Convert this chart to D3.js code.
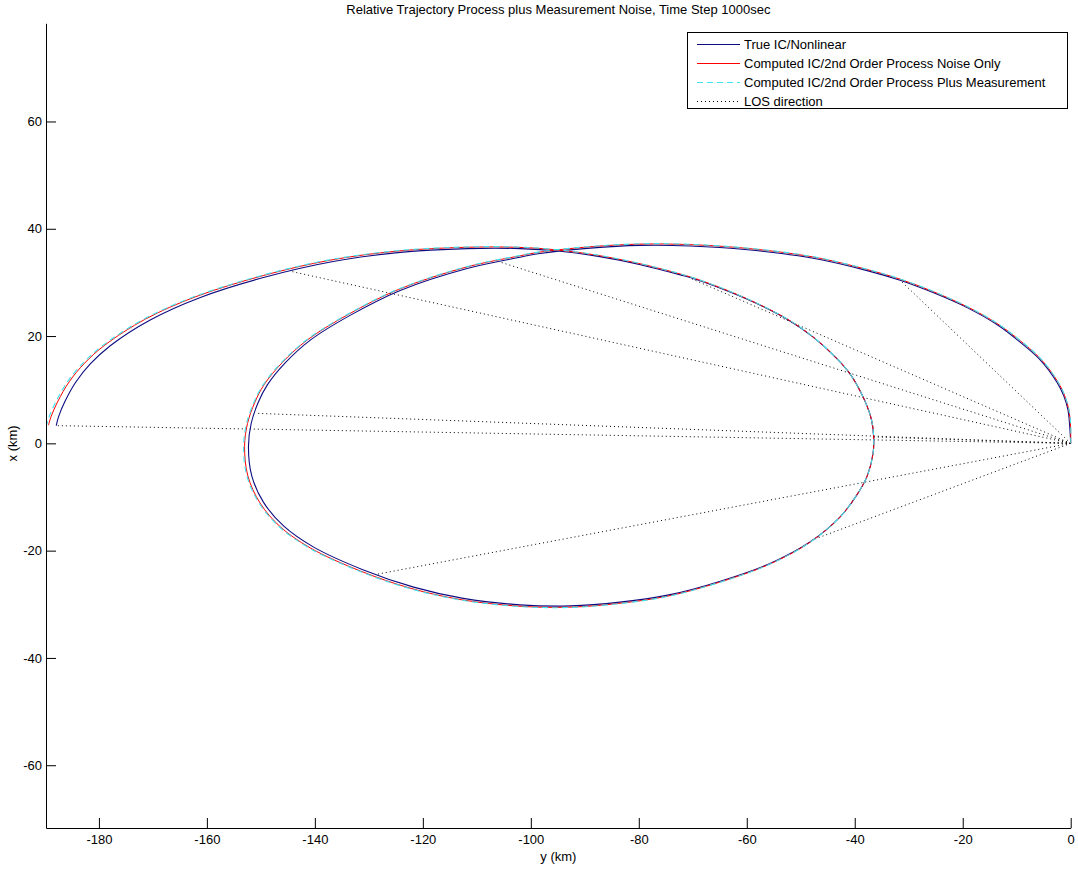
<!DOCTYPE html>
<html>
<head>
<meta charset="utf-8">
<script src="https://cdn.jsdelivr.net/npm/d3@7"></script>
<style>
  html, body { margin: 0; padding: 0; background: #fff; }
  svg { display: block; font-family: "Liberation Sans", Arial, sans-serif; }
</style>
</head>
<body>
<svg id="chart" width="1078" height="869"></svg>
<script>
// Relative trajectory (along-track y, radial x), km
const trueY = [0, -0.2, -0.5, -1.3, -2.5, -5.7, -9.9, -13.6, -19.2, -25.5, -31.6, -37.7, -47.7, -59.9, -70.5, -79.8, -89.0, -98.3, -102.0, -111.8, -124.2, -133.4, -140.9, -145.5, -148.8, -150.5, -151.8, -152.3, -151.7, -149.5, -145.8, -140.3, -131.0, -121.7, -112.5, -102.0, -92.7, -83.5, -74.2, -64.9, -55.7, -48.3, -42.7, -39.6, -37.7, -36.6, -36.5, -36.9, -38.3, -40.9, -43.5, -47.7, -52.0, -57.0, -63.1, -69.2, -72.3, -79.7, -87.2, -94.6, -102.0, -111.8, -124.2, -136.6, -148.8, -161.2, -170.5, -177.9, -181.6, -184.3, -186.3, -187.5, -187.9];
const trueX = [0, 3.4, 6.2, 8.9, 11.3, 15.6, 19.3, 22.1, 25.3, 28.1, 30.4, 32.2, 34.5, 36.1, 36.8, 36.9, 36.4, 35.4, 34.7, 32.6, 28.5, 23.9, 19.2, 15.0, 10.9, 7.6, 3.7, -0.6, -6.0, -11.0, -15.4, -19.3, -23.6, -26.8, -28.9, -30.1, -30.3, -29.6, -28.2, -25.7, -22.4, -18.4, -13.7, -9.6, -6.1, -1.8, 1.2, 4.4, 8.3, 13.0, 16.0, 19.8, 22.8, 25.5, 28.2, 30.5, 31.4, 33.3, 34.8, 35.8, 36.3, 36.3, 35.6, 33.9, 31.1, 27.2, 23.0, 18.2, 14.8, 11.4, 7.8, 4.9, 3.3];

const procY = [0, -0.04, -0.34, -1.14, -2.34, -5.54, -9.78, -13.52, -19.16, -25.5, -31.6, -37.7, -47.7, -59.9, -70.5, -79.8, -89.04, -98.38, -102.12, -112.0, -124.48, -133.76, -141.34, -146.02, -149.4, -151.14, -152.48, -153.02, -152.42, -150.18, -146.44, -140.9, -131.56, -122.18, -112.9, -102.36, -93.02, -83.78, -74.44, -65.1, -55.86, -48.42, -42.78, -39.64, -37.7, -36.6, -36.5, -36.9, -38.3, -40.94, -43.58, -47.82, -52.16, -57.2, -63.34, -69.48, -72.58, -80.02, -87.56, -95.0, -102.44, -112.28, -124.72, -137.2, -149.48, -162.0, -171.38, -178.9, -182.68, -185.5, -187.58, -188.86, -189.34];
const procX = [0, 3.4, 6.2, 8.94, 11.38, 15.72, 19.46, 22.26, 25.46, 28.3, 30.6, 32.4, 34.74, 36.34, 37.04, 37.14, 36.64, 35.64, 34.94, 32.84, 28.7, 24.06, 19.32, 15.08, 10.94, 7.6, 3.7, -0.6, -6.04, -11.08, -15.52, -19.46, -23.8, -27.04, -29.14, -30.34, -30.54, -29.84, -28.44, -25.9, -22.56, -18.52, -13.78, -9.64, -6.1, -1.8, 1.2, 4.4, 8.3, 13.04, 16.08, 19.92, 22.96, 25.66, 28.4, 30.7, 31.64, 33.54, 35.04, 36.04, 36.54, 36.54, 35.84, 34.14, 31.3, 27.36, 23.16, 18.32, 14.92, 11.48, 7.88, 4.98, 3.38];

const measY = [0, 0.0, -0.3, -1.1, -2.3, -5.5, -9.75, -13.5, -19.15, -25.5, -31.6, -37.7, -47.7, -59.9, -70.5, -79.8, -89.05, -98.4, -102.15, -112.05, -124.55, -133.85, -141.45, -146.15, -149.55, -151.3, -152.65, -153.2, -152.6, -150.35, -146.6, -141.05, -131.7, -122.3, -113.0, -102.45, -93.1, -83.85, -74.5, -65.15, -55.9, -48.45, -42.8, -39.65, -37.7, -36.6, -36.5, -36.9, -38.3, -40.95, -43.6, -47.85, -52.2, -57.25, -63.4, -69.55, -72.65, -80.1, -87.65, -95.1, -102.55, -112.4, -124.85, -137.35, -149.65, -162.2, -171.6, -179.15, -182.95, -185.8, -187.9, -189.2, -189.7];
const measX = [0, 3.4, 6.2, 8.95, 11.4, 15.75, 19.5, 22.3, 25.5, 28.35, 30.65, 32.45, 34.8, 36.4, 37.1, 37.2, 36.7, 35.7, 35.0, 32.9, 28.75, 24.1, 19.35, 15.1, 10.95, 7.6, 3.7, -0.6, -6.05, -11.1, -15.55, -19.5, -23.85, -27.1, -29.2, -30.4, -30.6, -29.9, -28.5, -25.95, -22.6, -18.55, -13.8, -9.65, -6.1, -1.8, 1.2, 4.4, 8.3, 13.05, 16.1, 19.95, 23.0, 25.7, 28.45, 30.75, 31.7, 33.6, 35.1, 36.1, 36.6, 36.6, 35.9, 34.2, 31.35, 27.4, 23.2, 18.35, 14.95, 11.5, 7.9, 5.0, 3.4];

// Line-of-sight sample points (each joined to the origin)
const losY = [-31.6, -105.7, -151.0, -128.5, -47.3, -36.5, -70.5, -144.6, -187.9];
const losX = [30.4, 33.8, 5.6, -24.4, -17.8, 1.2, 30.8, 32.1, 3.3];

const xTicks = [-180, -160, -140, -120, -100, -80, -60, -40, -20, 0];
const yTicks = [-60, -40, -20, 0, 20, 40, 60];

const legendLabels = [
  "True IC/Nonlinear",
  "Computed IC/2nd Order Process Noise Only",
  "Computed IC/2nd Order Process Plus Measurement",
  "LOS direction"
];

const titleText = "Relative Trajectory Process plus Measurement Noise, Time Step 1000sec";

const svg = d3.select("#chart");
const plot = { left: 46, right: 1070.7, top: 23.3, bottom: 828 };

const x = d3.scaleLinear().domain([-189.8, 0]).range([plot.left, plot.right]);
const y = d3.scaleLinear().domain([-71.7, 78.3]).range([plot.bottom, plot.top]);

const styles = [
  { color: "#0c0c82", dash: null, width: 1.1 },
  { color: "#ff0000", dash: null, width: 1.0 },
  { color: "#3fe3ef", dash: "6,4", width: 1.1 },
  { color: "#000000", dash: "1,3", width: 1.0 }
];

// LOS rays from the origin
const ray = d3.line().x(d => x(d[0])).y(d => y(d[1]));
const rays = losY.map((v, i) => [[0, 0], [v, losX[i]]]);
svg.append("g").selectAll("path").data(rays).join("path")
  .attr("d", ray)
  .attr("fill", "none")
  .attr("stroke", styles[3].color)
  .attr("stroke-width", styles[3].width)
  .attr("stroke-dasharray", styles[3].dash);

// Trajectories
const traj = d3.line().x(d => x(d[0])).y(d => y(d[1])).curve(d3.curveCatmullRom.alpha(0.5));
const series = [
  d3.zip(trueY, trueX),
  d3.zip(procY, procX),
  d3.zip(measY, measX)
];
series.forEach((pts, i) => {
  svg.append("path")
    .attr("d", traj(pts))
    .attr("fill", "none")
    .attr("stroke", styles[i].color)
    .attr("stroke-width", styles[i].width)
    .attr("stroke-dasharray", styles[i].dash);
});

// Axes
const xAxis = svg.append("g")
  .attr("transform", `translate(0,${plot.bottom})`)
  .call(d3.axisBottom(x).tickValues(xTicks).tickFormat(d3.format("d"))
    .tickSizeInner(-10).tickSizeOuter(0).tickPadding(7));
const yAxis = svg.append("g")
  .attr("transform", `translate(${plot.left},0)`)
  .call(d3.axisLeft(y).tickValues(yTicks).tickFormat(d3.format("d"))
    .tickSizeInner(-10).tickSizeOuter(0).tickPadding(4));
[xAxis, yAxis].forEach(g => {
  g.attr("font-family", "Liberation Sans, Arial, sans-serif").attr("font-size", 13);
  g.selectAll("text").attr("fill", "#000");
  g.selectAll("line, path").attr("stroke", "#000");
});
xAxis.selectAll("text").text(d => d < 0 ? "-" + Math.abs(d) : d);
yAxis.selectAll("text").text(d => d < 0 ? "-" + Math.abs(d) : d);

// Title and axis labels
svg.append("text").attr("x", (plot.left + plot.right) / 2).attr("y", 13.5)
  .attr("text-anchor", "middle").attr("font-size", 13).text(titleText);
svg.append("text").attr("x", (plot.left + plot.right) / 2).attr("y", 861)
  .attr("text-anchor", "middle").attr("font-size", 13).text("y (km)");
svg.append("text").attr("transform", `translate(17,${y(0)}) rotate(-90)`)
  .attr("text-anchor", "middle").attr("font-size", 13).text("x (km)");

// Legend
const lg = svg.append("g").attr("transform", "translate(687,32)");
lg.append("rect").attr("x", 0.5).attr("y", 0.5).attr("width", 380).attr("height", 76)
  .attr("fill", "#fff").attr("stroke", "#000").attr("stroke-width", 1);
legendLabels.forEach((label, i) => {
  const cy = 12.5 + i * 19;
  lg.append("line").attr("x1", 10).attr("x2", 53).attr("y1", cy).attr("y2", cy)
    .attr("stroke", styles[i].color).attr("stroke-width", styles[i].width)
    .attr("stroke-dasharray", styles[i].dash);
  lg.append("text").attr("x", 57).attr("y", cy).attr("dy", "0.35em")
    .attr("font-size", 13).text(label);
});
</script>
</body>
</html>
